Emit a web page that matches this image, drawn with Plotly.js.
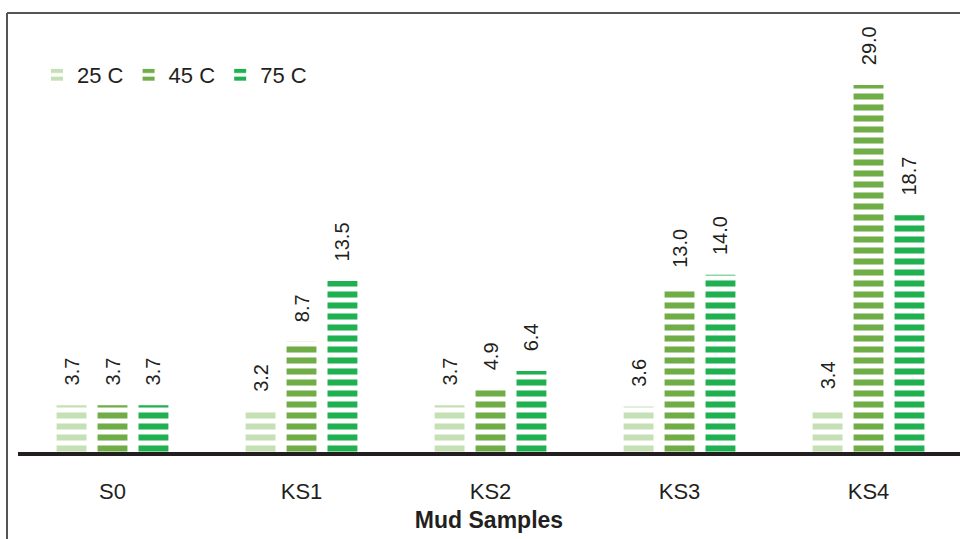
<!DOCTYPE html>
<html>
<head>
<meta charset="utf-8">
<script src="https://cdn.plot.ly/plotly-3.0.1.min.js"></script>
<style>
html,body{margin:0;padding:0;background:#fff;}
#chart{width:960px;height:539px;}
</style>
</head>
<body>
<div id="chart"></div>
<script>
const categories = ['S0', 'KS1', 'KS2', 'KS3', 'KS4'];
const seriesNames = ['25 C', '45 C', '75 C'];
const values25 = [3.7, 3.2, 3.7, 3.6, 3.4];
const values45 = [3.7, 8.7, 4.9, 13.0, 29.0];
const values75 = [3.7, 13.5, 6.4, 14.0, 18.7];
const colors = ['#c6e0b5', '#70ad47', '#1fb04f'];

const allValues = [values25, values45, values75];
const FONT = 'Liberation Sans, Arial, sans-serif';

const traces = allValues.map((vals, i) => ({
  type: 'bar',
  name: seriesNames[i],
  x: categories,
  y: vals,
  marker: {
    color: colors[i],
    line: {width: 0},
    pattern: {shape: '-', size: 11, solidity: 0.55, fgcolor: colors[i], bgcolor: '#ffffff', fillmode: 'replace'}
  },
  texttemplate: '\u00a0\u00a0\u00a0%{y:.1f}',
  textposition: 'outside',
  textangle: -90,
  constraintext: 'none',
  cliponaxis: false,
  textfont: {family: FONT, size: 20, color: '#231f20'},
  hoverinfo: 'x+y+name'
}));

const plotW = 960 - 18;
const plotH = 539 - 14 - 87;
const px = x => (x - 18) / plotW;
const py = y => (452 - y) / plotH;

const layout = {
  width: 960,
  height: 539,
  margin: {l: 18, r: 0, t: 14, b: 87},
  paper_bgcolor: '#ffffff',
  plot_bgcolor: '#ffffff',
  barmode: 'group',
  bargap: 0.35,
  bargroupgap: 0.27,
  showlegend: true,
  legend: {
    orientation: 'h',
    x: px(37), y: py(54),
    xanchor: 'left', yanchor: 'top',
    font: {family: FONT, size: 22, color: '#231f20'},
    bgcolor: 'rgba(0,0,0,0)',
    itemwidth: 30,
    traceorder: 'normal'
  },
  xaxis: {
    type: 'category',
    range: [-0.5, 4.484],
    showline: true,
    linewidth: 4,
    linecolor: '#231f20',
    ticks: '',
    ticklabelstandoff: 17,
    showgrid: false,
    zeroline: false,
    tickfont: {family: FONT, size: 22, color: '#231f20'},
    title: {text: 'Mud Samples', standoff: 9, font: {family: FONT, size: 23, color: '#231f20', weight: 'bold'}}
  },
  yaxis: {
    range: [0, 34.6],
    visible: false,
    showgrid: false,
    zeroline: false
  },
  shapes: [
    {type: 'line', xref: 'paper', yref: 'paper', x0: px(7), x1: px(960), y0: py(13), y1: py(13), line: {color: '#555555', width: 2}},
    {type: 'line', xref: 'paper', yref: 'paper', x0: px(7), x1: px(7), y0: py(13), y1: py(540), line: {color: '#555555', width: 2}}
  ]
};

Plotly.newPlot('chart', traces, layout, {displayModeBar: false, staticPlot: true});
</script>
</body>
</html>
